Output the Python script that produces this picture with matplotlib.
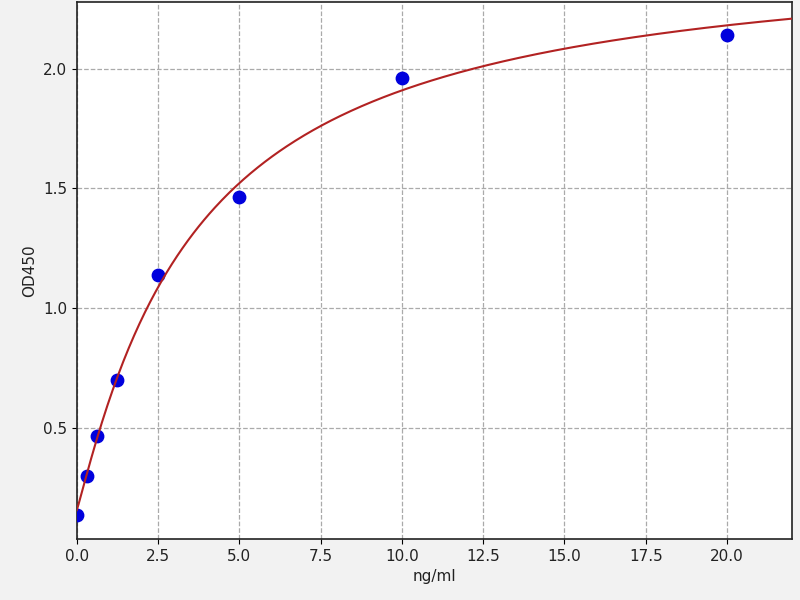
import matplotlib
matplotlib.use("Agg")
import matplotlib.pyplot as plt
import numpy as np

# standard points
conc = [0.0, 0.3125, 0.625, 1.25, 2.5, 5.0, 10.0, 20.0]
od450 = [0.135, 0.298, 0.463, 0.70, 1.14, 1.465, 1.963, 2.143]

# 4PL fit parameters
fit_a = 0.155
fit_b = 1.08
fit_c = 3.7
fit_d = 2.51

def four_pl(x):
	return fit_d + (fit_a - fit_d) / (1.0 + (x / fit_c) ** fit_b)

def main():
	fig = plt.figure(figsize=(8, 6), dpi=100, facecolor='#f2f2f2')
	ax = fig.add_axes([0.096, 0.1017, 0.894, 0.895])
	ax.set_facecolor('white')

	xs = np.linspace(0, 22, 400)
	ax.scatter(conc, od450, s=80, color='#0000dd', zorder=3)
	ax.plot(xs, four_pl(xs), color='#b22222', lw=1.5, zorder=4)

	ax.set_xlim(0, 22)
	ax.set_ylim(0.034, 2.28)
	ax.set_xticks([0, 2.5, 5, 7.5, 10, 12.5, 15, 17.5, 20])
	ax.set_yticks([0.5, 1.0, 1.5, 2.0])
	ax.grid(True, linestyle='--', color='#aaaaaa', lw=0.9)
	ax.set_axisbelow(True)
	ax.set_xlabel('ng/ml', fontsize=11, color='#222222')
	ax.set_ylabel('OD450', fontsize=11, color='#222222')
	for s in ax.spines.values():
		s.set_color('#222222')
		s.set_linewidth(1.2)
	ax.tick_params(labelsize=11, labelcolor='#222222')

	fig.savefig('out.png', dpi=100, facecolor=fig.get_facecolor())

main()
